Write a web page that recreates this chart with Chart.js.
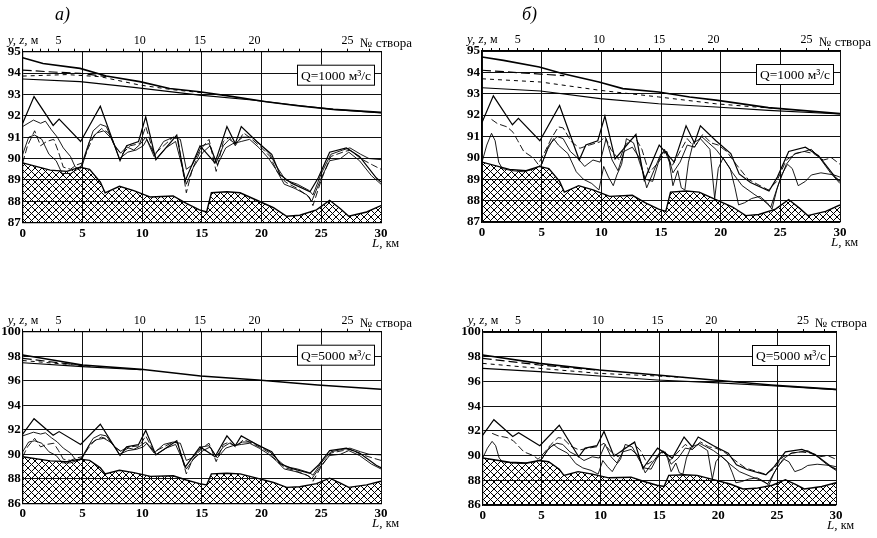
<!DOCTYPE html>
<html>
<head>
<meta charset="utf-8">
<script src="https://cdn.jsdelivr.net/npm/chart.js@4.4.1/dist/chart.umd.min.js"></script>
<style>
  body { margin: 0; background: #fff; }
  #wrap { position: relative; width: 877px; height: 538px; }
  .panel { position: absolute; }
  canvas { display: block; }
</style>
</head>
<body>
<div id="wrap">
  <div class="panel" style="left:0;top:0"><canvas id="pa" width="438" height="265"></canvas></div>
  <div class="panel" style="left:438px;top:0"><canvas id="pb" width="439" height="265"></canvas></div>
  <div class="panel" style="left:0;top:265px"><canvas id="pc" width="438" height="273"></canvas></div>
  <div class="panel" style="left:438px;top:265px"><canvas id="pd" width="439" height="273"></canvas></div>
</div>
<script>
const serif = "'Liberation Serif', 'DejaVu Serif', serif";

// cross-section numbers (top axis) and their distance, km
const stvorNo = [1, 2, 3, 4, 5, 6, 7, 8, 9, 10, 11, 12, 13, 14, 15, 16, 17, 18, 19, 20, 21, 22, 23, 24, 25, 26];
const stvorKm = [0, 0.8, 1.5, 2.2, 3.0, 4.3, 5.6, 7.0, 8.4, 9.8, 11.0, 12.0, 13.0, 14.0, 14.85, 15.8, 16.8, 17.7, 18.5, 19.4, 20.6, 21.8, 23.2, 25.0, 27.2, 29.0];

// river bottom (hatched), [L km, z m]
const bottomZ = [[0,89.8],[2.3,89.46],[3.7,89.4],[4.8,89.6],[5.6,89.5],[6.5,88.9],[6.9,88.4],[8.1,88.7],[9.3,88.5],[10.7,88.2],[12.6,88.25],[13.7,87.9],[14.8,87.6],[15.4,87.5],[15.8,88.4],[17.1,88.45],[18.2,88.4],[19.6,88.05],[21,87.7],[22.1,87.3],[23.2,87.35],[24.6,87.6],[25.7,88.05],[26.6,87.65],[27.3,87.3],[28.8,87.5],[30,87.8]];

// upper bed line, same in all panels
const bed1 = [[0,91.65],[0.95,92.9],[2.55,91.55],[3.05,91.85],[4.85,90.8],[6.5,92.45],[8.15,89.9],[8.7,90.6],[9.7,90.8],[10.3,91.95],[11.15,89.95],[12.9,91.1],[13.6,88.95],[14.85,90.6],[16.1,89.8],[17.1,91.5],[17.8,90.7],[18.3,91.5],[19.6,90.8],[20.85,90.2],[21.55,89.25],[22.5,88.85],[24.05,88.45],[24.75,89.1],[25.7,90.3],[27.1,90.5],[28.2,90.1],[29.6,89.1],[30,88.9]];

// bed lines, variant а)
const bedA2 = [[0,91.5],[0.9,91.8],[1.5,91.65],[1.9,91.75],[2.4,91.35],[2.9,91.0],[3.4,90.5],[4.0,90.1],[4.4,89.6],[4.8,89.5],[5.4,90.5],[5.9,91.3],[6.5,91.6],[7.0,91.5],[7.6,90.7],[8.2,90.25],[8.7,90.55],[9.3,90.4],[9.8,90.65],[10.3,91.0],[11.0,90.1],[11.8,90.8],[12.6,91.0],[13.2,90.9],[13.7,89.5],[14.2,89.7],[15.0,90.6],[15.6,90.7],[16.2,89.8],[16.8,90.6],[17.3,90.9],[17.8,90.7],[18.4,91.0],[19.2,91.0],[20.0,90.6],[20.7,90.2],[21.3,89.6],[22.0,89.0],[23.0,88.8],[24.0,88.5],[24.3,88.3],[25.0,89.3],[25.8,90.2],[26.8,90.4],[27.4,90.5],[28.3,90.2],[29.0,90.0],[30,89.95]];
const bedA3 = [[0,89.8],[0.4,90.6],[1.0,91.3],[1.5,90.6],[2.0,90.8],[2.6,90.9],[3.0,90.3],[3.4,89.6],[4.0,89.5],[4.5,89.7],[5.0,89.8],[5.5,90.5],[6.0,91.1],[6.6,91.4],[7.2,91.2],[7.8,90.5],[8.3,90.2],[9.0,90.6],[9.8,90.7],[10.3,91.5],[11.0,90.2],[11.8,90.6],[12.6,91.0],[13.0,90.9],[13.7,88.4],[14.2,89.5],[15.0,90.5],[15.6,90.9],[16.2,89.4],[16.8,90.8],[17.3,91.0],[17.8,90.6],[18.5,91.2],[19.2,90.9],[20.0,90.5],[20.7,90.1],[21.3,89.4],[22.0,88.9],[23.0,88.6],[24.0,88.2],[24.3,87.8],[25.0,89.0],[25.8,90.1],[26.8,90.3],[27.4,90.4],[28.3,90.0],[29.3,89.7],[30,89.5]];
const bedA4 = [[0,90.2],[0.5,91.0],[1.0,91.1],[1.6,90.9],[2.2,90.2],[2.8,89.9],[3.3,89.3],[4.0,89.3],[4.6,89.5],[5.0,89.7],[5.6,90.8],[6.2,91.2],[6.8,91.3],[7.5,90.9],[8.1,90.0],[8.8,90.3],[9.5,90.4],[10.1,90.6],[10.4,90.9],[11.2,90.0],[12.0,90.5],[12.8,90.8],[13.5,89.3],[13.7,88.8],[14.3,89.6],[15.1,90.3],[15.7,90.6],[16.3,89.7],[17.0,90.5],[17.6,90.7],[18.3,90.8],[19.0,90.9],[19.8,90.5],[20.6,90.0],[21.2,89.5],[21.9,88.8],[22.8,88.6],[23.8,88.3],[24.2,88.0],[25.0,89.1],[25.7,89.9],[26.6,90.0],[27.3,90.3],[28.2,89.9],[29.2,89.2],[30,88.8]];

// bed lines, variant б)
const bedB2 = [[0.8,91.8],[1.3,91.6],[2.1,91.45],[2.6,91.2],[3.0,90.8],[3.5,90.3],[4.3,90.0],[4.7,89.7],[5.2,90.2],[5.8,90.9],[6.4,91.45],[6.8,91.4],[7.5,90.75],[8.2,90.45],[9.0,90.6],[9.9,90.75],[10.3,91.0],[10.8,90.4],[11.5,89.9],[12.0,90.6],[12.8,91.0],[13.4,90.4],[14.0,89.3],[14.8,89.8],[15.4,90.3],[15.9,89.6],[16.5,90.2],[17.2,90.9],[17.8,90.5],[18.5,91.1],[19.2,90.7],[19.8,90.6],[20.5,90.3],[21.3,89.7],[22.3,89.0],[23.3,88.7],[24.0,88.5],[24.7,88.9],[25.5,89.9],[26.3,90.2],[27.0,90.3],[27.8,90.2],[28.6,89.9],[29.3,90.0],[30,89.7]];
const bedB3 = [[0,89.8],[0.4,90.6],[0.8,91.15],[1.1,90.8],[1.4,89.8],[1.7,89.5],[2.5,89.4],[3.5,89.35],[4.5,89.5],[5.0,89.7],[5.5,90.4],[6.0,90.9],[6.4,90.6],[7.2,90.2],[7.9,89.35],[8.5,89.0],[9.2,88.8],[9.8,88.5],[10.2,89.6],[10.6,89.1],[11.0,88.7],[11.3,89.2],[11.7,89.7],[12.1,90.9],[12.7,90.7],[13.2,89.8],[13.7,89.0],[14.3,88.9],[14.9,90.0],[15.3,90.4],[15.7,89.8],[16.0,88.7],[16.4,89.4],[16.7,88.6],[17.0,88.5],[17.3,89.8],[17.7,90.7],[18.3,90.9],[19.1,90.4],[19.5,88.1],[19.8,89.5],[20.2,90.0],[20.8,89.5],[21.2,88.6],[21.5,87.8],[22.0,87.9],[22.6,88.1],[23.3,88.2],[23.9,87.9],[24.3,87.6],[24.7,88.5],[25.1,89.2],[25.6,89.7],[26.0,89.5],[26.5,88.7],[27.1,88.9],[27.6,89.2],[28.4,89.3],[29.5,89.2],[30,89.1]];
const bedB4 = [[5.0,89.7],[5.6,90.6],[6.3,91.0],[6.8,90.9],[7.4,90.3],[8.0,90.0],[8.6,89.6],[9.3,89.9],[9.9,89.8],[10.4,90.9],[10.9,89.9],[11.4,89.4],[11.9,90.3],[12.6,90.5],[13.2,90.0],[13.8,88.6],[14.4,89.4],[15.0,90.2],[15.5,90.3],[16.0,89.3],[16.6,89.8],[17.2,90.6],[17.8,90.5],[18.4,91.0],[19.0,90.7],[19.6,90.4],[20.3,89.9],[21.0,89.3],[21.8,88.7],[22.8,88.3],[23.6,88.0],[24.2,87.7],[24.8,88.7],[25.5,89.7],[26.2,90.2],[27.0,90.3],[27.6,90.4],[28.3,90.0],[29.2,89.3],[30,88.8]];

// water surface, Q=1000, panel а)
const wa1Top = [[0,94.72],[1.7,94.45],[4.8,94.22],[7,93.86],[9.8,93.6],[12.3,93.28],[14.8,93.13],[17.6,92.9],[20.4,92.66],[23.2,92.46],[26,92.3],[30,92.16]];
const wa1Long = [[0,94.14],[2.5,94.05],[4.8,93.99],[7,93.84]];
const wa1Short = [[0,93.86],[3.7,93.93],[6.5,93.83],[9.8,93.44],[12.6,93.22],[15,93.08]];
const wa1Low = [[0,93.72],[4.8,93.6],[9.3,93.33],[14.8,92.97],[19.2,92.74],[22,92.55],[26,92.3],[30,92.14]];
// water surface, Q=1000, panel б)
const wb1Top = [[0,94.72],[1.8,94.56],[4.8,94.25],[6.8,93.94],[9.8,93.55],[11.8,93.24],[14.8,93.08],[17.4,92.85],[19.6,92.7],[24,92.35],[30,92.07]];
const wb1Long = [[0,94.1],[4.9,93.92],[6.9,93.85]];
const wb1Short = [[0,93.7],[4.9,93.55],[9.9,93.16],[14.8,92.85],[19.6,92.53],[22.5,92.4],[25,92.3]];
const wb1Low = [[0,93.28],[4.9,93.13],[9.9,92.77],[14.8,92.53],[19.6,92.38],[24,92.22],[30,92.05]];
// water surface, Q=5000, panel а)
const wa5Top = [[0,98.1],[5,97.28],[9.9,96.93],[14.9,96.39],[19.7,96.06],[24.7,95.65],[30,95.3]];
const wa5Long = [[0,97.83],[2.3,97.55],[5,97.25]];
const wa5Short = [[0,97.65],[3,97.4],[6,97.15]];
const wa5Low = [[0,97.47],[5,97.15],[9.9,96.9]];
// water surface, Q=5000, panel б)
const wb5Top = [[0,98.14],[4.8,97.46],[9.9,96.92],[14.8,96.52],[19.6,96.12],[24.5,95.71],[30,95.36]];
const wb5Long = [[0,97.87],[4.8,97.33],[9.9,96.9]];
const wb5Short = [[0,97.46],[4.8,97.06],[9.9,96.65],[14.8,96.44],[17.5,96.3]];
const wb5Low = [[0,97.06],[4.8,96.79],[9.9,96.44],[14.8,96.12],[19.6,95.9],[24.5,95.65],[30,95.34]];

function pts(arr) {
    return arr.map(p => ({x: p[0], y: p[1]}));
}

function hatch() {
    const c = document.createElement("canvas");
    c.width = 7;
    c.height = 7;
    const g = c.getContext("2d");
    g.strokeStyle = "#000";
    g.lineWidth = 1;
    g.beginPath();
    g.moveTo(-1, -1); g.lineTo(8, 8);
    g.moveTo(8, -1); g.lineTo(-1, 8);
    g.stroke();
    return g.createPattern(c, "repeat");
}

const extras = {
    id: "extras",
    afterDraw(chart, args, o) {
        const ctx = chart.ctx;
        const a = chart.chartArea;
        ctx.save();
        ctx.fillStyle = "#000";
        ctx.textBaseline = "alphabetic";

        // y, z, м
        ctx.font = "italic 13px " + serif;
        let x = a.left - 15;
        ctx.fillText("y, z,", x, a.top - 8);
        x += ctx.measureText("y, z, ").width;
        ctx.font = "12px " + serif;
        ctx.fillText("м", x, a.top - 8);

        // № створа
        ctx.font = "13px " + serif;
        ctx.fillText("№ створа", a.right - 21, a.top - 5);

        // L, км
        ctx.font = "italic 13px " + serif;
        x = a.right - 9;
        ctx.fillText("L,", x, a.bottom + 24);
        x += ctx.measureText("L, ").width;
        ctx.font = "12px " + serif;
        ctx.fillText("км", x, a.bottom + 24);

        // Q box
        const bw = 77, bh = 20;
        const bx = a.right - 7 - bw, by = a.top + 13;
        ctx.fillStyle = "#fff";
        ctx.fillRect(bx, by, bw, bh);
        ctx.strokeStyle = "#000";
        ctx.lineWidth = 1;
        ctx.strokeRect(bx + 0.5, by + 0.5, bw, bh);
        ctx.fillStyle = "#000";
        ctx.font = "13.5px " + serif;
        ctx.textAlign = "center";
        ctx.fillText(o.q, bx + bw / 2 + 0.5, by + 15);

        if (o.letter) {
            ctx.textAlign = "left";
            ctx.font = "italic 18px " + serif;
            ctx.fillText(o.letter, o.letterX, o.letterY);
        }
        ctx.restore();
    }
};

function lineSet(water, beds) {
    const ds = [];
    ds.push({data: pts(water[0]), borderWidth: 1.6});
    ds.push({data: pts(water[1]), borderWidth: 1.2, borderDash: [9, 4]});
    ds.push({data: pts(water[2]), borderWidth: 1, borderDash: [4, 4]});
    ds.push({data: pts(water[3]), borderWidth: 1.1});
    ds.push({data: pts(bed1), borderWidth: 1.2});
    ds.push({data: pts(beds[0]), borderWidth: 0.9, borderDash: [7, 3]});
    ds.push({data: pts(beds[1]), borderWidth: 0.9});
    ds.push({data: pts(beds[2]), borderWidth: 0.9});
    ds.push({data: pts(bottomZ), borderWidth: 1.4, fill: "start", backgroundColor: hatch()});
    return ds.map(d => Object.assign({
        borderColor: "#000",
        pointRadius: 0,
        tension: 0,
        fill: false
    }, d));
}

function makePanel(id, p) {
    const canvas = document.getElementById(id);
    const W = canvas.width, H = canvas.height;
    const tickFont = {family: serif, size: 13, weight: "bold"};
    return new Chart(canvas, {
        type: "line",
        data: {datasets: lineSet(p.water, p.beds)},
        plugins: [extras],
        options: {
            responsive: false,
            animation: false,
            events: [],
            layout: {padding: {left: 0, top: 0, bottom: 0, right: W - p.area.right}},
            plugins: {
                legend: {display: false},
                tooltip: {enabled: false},
                extras: {q: p.q, letter: p.letter, letterX: p.letterX, letterY: 20}
            },
            scales: {
                x: {
                    type: "linear",
                    min: 0,
                    max: 30,
                    ticks: {stepSize: 5, color: "#000", font: tickFont, padding: 3, maxRotation: 0},
                    grid: {color: "#111", lineWidth: 1, drawTicks: false},
                    border: {color: "#000", width: 1.2},
                    afterFit(s) { s.height = H - p.area.bottom; }
                },
                x2: {
                    type: "linear",
                    axis: "x",
                    position: "top",
                    min: 0,
                    max: 30,
                    afterBuildTicks(s) { s.ticks = stvorKm.map(v => ({value: v})); },
                    ticks: {
                        color: "#000",
                        font: {family: serif, size: 12},
                        padding: 1,
                        autoSkip: false,
                        maxRotation: 0,
                        callback: (v, i) => stvorNo[i] % 5 === 0 ? String(stvorNo[i]) : ""
                    },
                    grid: {drawOnChartArea: false, tickLength: 3, color: "#000"},
                    border: {color: "#000", width: 1.2},
                    afterFit(s) { s.height = p.area.top; }
                },
                y: {
                    min: p.yMin,
                    max: p.yMax,
                    ticks: {stepSize: p.yStep, color: "#000", font: tickFont, padding: 2},
                    grid: {color: "#111", lineWidth: 1, drawTicks: false},
                    border: {color: "#000", width: 1.2},
                    afterFit(s) { s.width = p.area.left; }
                }
            }
        }
    });
}

makePanel("pa", {
    area: {left: 22.7, right: 381, top: 51.7, bottom: 222.7},
    yMin: 87, yMax: 95, yStep: 1,
    water: [wa1Top, wa1Long, wa1Short, wa1Low],
    beds: [bedA3, bedA2, bedA4],
    q: "Q=1000 м³/с", letter: "а)", letterX: 55
});
makePanel("pb", {
    area: {left: 44, right: 402, top: 51, bottom: 222},
    yMin: 87, yMax: 95, yStep: 1,
    water: [wb1Top, wb1Long, wb1Short, wb1Low],
    beds: [bedB2, bedB3, bedB4],
    q: "Q=1000 м³/с", letter: "б)", letterX: 84
});
makePanel("pc", {
    area: {left: 22.7, right: 381, top: 66.7, bottom: 238.3},
    yMin: 86, yMax: 100, yStep: 2,
    water: [wa5Top, wa5Long, wa5Short, wa5Low],
    beds: [bedA3, bedA2, bedA4],
    q: "Q=5000 м³/с"
});
makePanel("pd", {
    area: {left: 44.7, right: 398, top: 67, bottom: 240},
    yMin: 86, yMax: 100, yStep: 2,
    water: [wb5Top, wb5Long, wb5Short, wb5Low],
    beds: [bedB2, bedB3, bedB4],
    q: "Q=5000 м³/с"
});
</script>
</body>
</html>
